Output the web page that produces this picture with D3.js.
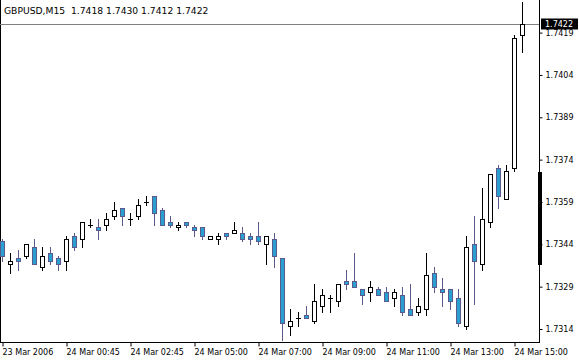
<!DOCTYPE html>
<html>
<head>
<meta charset="utf-8">
<script src="https://cdn.jsdelivr.net/npm/d3@7"></script>
<style>
  html, body { margin: 0; padding: 0; background: #fff; }
  svg { display: block; }
  text { font-family: "DejaVu Sans", sans-serif; font-size: 8px; fill: #000; }
</style>
</head>
<body>
<svg id="chart" width="579" height="361"></svg>
<script>
// ---- data (GBPUSD M15) ----
const opens  = [1.7345,1.7337,1.7339,1.7340,1.7343,1.7336,1.7341,1.7339,1.7338,1.7347,
                1.7346,1.7351,1.7350,1.7351,1.7354,1.7357,1.7353,1.7354,1.7359,1.7361,
                1.7356,1.7352,1.7350,1.7352,1.7350,1.7350,1.7346,1.7346,1.7348,1.7348,
                1.7348,1.7347,1.7347,1.7344,1.7346,1.7339,1.7315,1.7318,1.7319,1.7317,
                1.7322,1.7325,1.7324,1.7331,1.7331,1.7328,1.7327,1.7328,1.7327,1.7325,
                1.7326,1.7321,1.7320,1.7321,1.7334,1.7328,1.7328,1.7325,1.7315,1.7344,
                1.7337,1.7352,1.7371,1.7360,1.7371,1.7418];
const highs  = [1.7346,1.7341,1.7342,1.7344,1.7346,1.7343,1.7343,1.7340,1.7347,1.7348,
                1.7352,1.7353,1.7353,1.7355,1.7359,1.7357,1.7355,1.7360,1.7361,1.7361,
                1.7357,1.7354,1.7352,1.7352,1.7351,1.7350,1.7347,1.7348,1.7348,1.7352,
                1.7350,1.7348,1.7352,1.7347,1.7348,1.7339,1.7321,1.7320,1.7322,1.7330,
                1.7328,1.7326,1.7330,1.7335,1.7341,1.7328,1.7331,1.7329,1.7329,1.7328,
                1.7329,1.7330,1.7325,1.7341,1.7336,1.7332,1.7328,1.7328,1.7347,1.7354,
                1.7364,1.7369,1.7372,1.7372,1.7418,1.7430];
const lows   = [1.7338,1.7334,1.7335,1.7339,1.7337,1.7335,1.7337,1.7335,1.7335,1.7342,
                1.7343,1.7350,1.7346,1.7349,1.7353,1.7351,1.7351,1.7353,1.7358,1.7351,
                1.7351,1.7350,1.7349,1.7350,1.7347,1.7346,1.7346,1.7344,1.7346,1.7348,
                1.7345,1.7344,1.7344,1.7337,1.7336,1.7310,1.7312,1.7315,1.7318,1.7316,
                1.7320,1.7320,1.7322,1.7328,1.7329,1.7323,1.7324,1.7326,1.7324,1.7322,
                1.7319,1.7319,1.7319,1.7319,1.7327,1.7322,1.7321,1.7315,1.7314,1.7323,
                1.7335,1.7350,1.7357,1.7360,1.7370,1.7412];
const closes = [1.7340,1.7338,1.7338,1.7344,1.7337,1.7340,1.7338,1.7337,1.7346,1.7343,
                1.7352,1.7351,1.7349,1.7353,1.7356,1.7354,1.7353,1.7358,1.7359,1.7355,
                1.7351,1.7351,1.7351,1.7351,1.7349,1.7347,1.7347,1.7347,1.7347,1.7349,
                1.7346,1.7346,1.7345,1.7347,1.7340,1.7316,1.7317,1.7318,1.7318,1.7324,
                1.7326,1.7325,1.7330,1.7330,1.7329,1.7326,1.7329,1.7326,1.7324,1.7327,
                1.7320,1.7319,1.7322,1.7333,1.7329,1.7327,1.7324,1.7316,1.7343,1.7338,
                1.7353,1.7369,1.7361,1.7370,1.7417,1.7422];
const xTickIndex  = [0, 8, 16, 24, 32, 40, 48, 56, 64];
const xTickLabels = ["23 Mar 2006","24 Mar 00:45","24 Mar 02:45","24 Mar 05:00","24 Mar 07:00",
                     "24 Mar 09:00","24 Mar 11:00","24 Mar 13:00","24 Mar 15:00"];
const yTickValues = [1.7314,1.7329,1.7344,1.7359,1.7374,1.7389,1.7404,1.7419];
const symbol = "GBPUSD,M15";
const bidPrice = 1.7422;

// ---- layout ----
const W = 579, H = 361;
const plotRight = 539, plotBottom = 342;
const bullFill = "#ffffff", bullStroke = "#000000";
const bearFill = "#2a9fd2", bearStroke = "#5b5a8c";

const svg = d3.select("#chart");
const n = opens.length;

const x = d3.scalePoint().domain(d3.range(n)).range([2.5, 2.5 + 8 * (n - 1)]);
const y = d3.scaleLinear().domain([1.7314, 1.7419]).range([329, 32.6]);
const py = v => Math.round(y(v)) + 0.5;

// plot frame
svg.append("line").attr("x1", 0.5).attr("x2", 0.5).attr("y1", 0).attr("y2", plotBottom)
  .attr("stroke", "#000");

// bid line
svg.append("line").attr("x1", 0).attr("x2", plotRight).attr("y1", py(bidPrice)).attr("y2", py(bidPrice))
  .attr("stroke", "#808080");

// candles
const data = d3.range(n).map(i => ({i, o: opens[i], h: highs[i], l: lows[i], c: closes[i]}));
const g = svg.append("g");
const candle = g.selectAll("g.c").data(data).join("g").attr("class", "c");
candle.append("line")
  .attr("x1", d => x(d.i)).attr("x2", d => x(d.i))
  .attr("y1", d => Math.round(y(d.h))).attr("y2", d => Math.min(plotBottom, Math.round(y(d.l)) + 1))
  .attr("stroke", d => d.c < d.o ? bearStroke : bullStroke);
candle.filter(d => d.c !== d.o).append("rect")
  .attr("x", d => x(d.i) - 2)
  .attr("width", 4)
  .attr("y", d => py(Math.max(d.o, d.c)))
  .attr("height", d => Math.max(1, py(Math.min(d.o, d.c)) - py(Math.max(d.o, d.c))))
  .attr("fill", d => d.c < d.o ? bearFill : bullFill)
  .attr("stroke", d => d.c < d.o ? bearStroke : bullStroke);
candle.filter(d => d.c === d.o).append("line")
  .attr("x1", d => x(d.i) - 2.5).attr("x2", d => x(d.i) + 2.5)
  .attr("y1", d => py(d.o)).attr("y2", d => py(d.o))
  .attr("stroke", bullStroke);

// title
svg.append("text").attr("x", 4).attr("y", 13.5).attr("xml:space", "preserve")
  .style("white-space", "pre").style("font-size", "9.2px")
  .text(symbol + "  " + [opens[n-1], highs[n-1], lows[n-1], closes[n-1]].map(v => v.toFixed(4)).join(" "));

// right axis
const yAxis = d3.axisRight(y).tickValues(yTickValues).tickFormat(d3.format(".4f"))
  .tickSize(3).tickPadding(3);
const ya = svg.append("g").attr("transform", `translate(${plotRight + 0.5},0)`).call(yAxis);
ya.select(".domain").remove();
ya.selectAll("text").style("font-family", "DejaVu Sans").style("font-size", "8px");
svg.append("line").attr("x1", plotRight + 0.5).attr("x2", plotRight + 0.5)
  .attr("y1", 0).attr("y2", plotBottom + 1).attr("stroke", "#000");

// bottom axis
const xAxis = d3.axisBottom(x).tickValues(xTickIndex)
  .tickFormat((d, k) => xTickLabels[k]).tickSize(4).tickPadding(3);
const xa = svg.append("g").attr("transform", `translate(0,${plotBottom + 0.5})`).call(xAxis);
xa.select(".domain").remove();
xa.selectAll("text").attr("text-anchor", "start").attr("dx", -0.5)
  .style("font-family", "DejaVu Sans").style("font-size", "8px");
svg.append("line").attr("x1", 0).attr("x2", plotRight + 1)
  .attr("y1", plotBottom + 0.5).attr("y2", plotBottom + 0.5).attr("stroke", "#000");

// black marker on price scale
svg.append("rect").attr("x", plotRight - 1).attr("width", 4)
  .attr("y", 172).attr("height", 93).attr("fill", "#000");

// bid label
const by = py(bidPrice);
svg.append("rect").attr("x", plotRight + 2).attr("y", by - 6).attr("width", 37).attr("height", 11)
  .attr("fill", "#000");
svg.append("text").attr("x", plotRight + 6).attr("y", by).attr("dy", "0.32em")
  .style("fill", "#fff").text(bidPrice.toFixed(4));
</script>
</body>
</html>
